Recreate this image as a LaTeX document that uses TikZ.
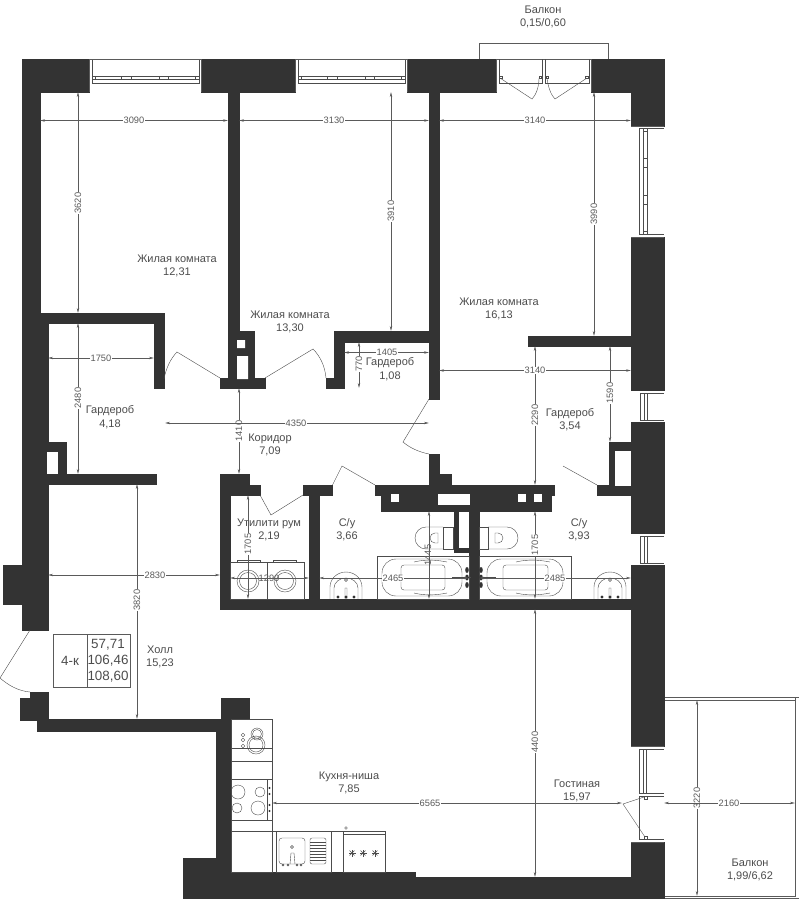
\documentclass[tikz,border=0pt]{standalone}
\usepackage{fontspec}
\setmainfont{Liberation Sans}
\usetikzlibrary{arrows.meta}
\definecolor{wallgray}{HTML}{333333}
\definecolor{dimgray}{HTML}{5A5A5A}
\tikzset{
  wall/.style = {fill=wallgray, draw=wallgray, line width=0.2pt},
  hole/.style = {fill=white, draw=none},
  thinline/.style = {draw=dimgray, line width=0.5pt},
  fixture/.style = {draw=black!70, line width=0.4pt},
  dimline/.style = {draw=dimgray, line width=0.55pt, {Stealth[length=5pt,width=2.4pt]}-{Stealth[length=5pt,width=2.4pt]}},
  dimtext/.style = {font=\fontsize{9.3}{10}\selectfont, text=dimgray, fill=white, inner sep=0.6pt},
  dimbare/.style = {font=\fontsize{9.3}{10}\selectfont, text=dimgray, inner sep=0.6pt},
  roomname/.style = {font=\fontsize{11}{13.2}\selectfont, text=black!70, align=center, inner sep=0pt, yshift=-1.2pt},
  infotext/.style = {font=\fontsize{13.4}{15}\selectfont, text=black!70, inner sep=0pt},
}
\begin{document}
\begin{tikzpicture}[x=1pt, y=-1pt]
\useasboundingbox (0,0) rectangle (799,900);
% balconies
\draw[thinline, line width=1pt] (479,59) -- (479,43) -- (608,43) -- (608,59);
\draw[thinline] (664,697) -- (799,697) -- (799,898) -- (664,898);
\draw[thinline] (664,700) -- (795,700) -- (795,896) -- (664,896);
\draw[thinline] (795,697) -- (795,700);
% outer walls
\fill[wall] (22,59) rectangle (89,92) (201,59) rectangle (295,92) (407,59) rectangle (496,92) (591,59) rectangle (664,92);
\fill[wall] (22,59) rectangle (40,313);
\fill[wall] (22,313) rectangle (48,630);
\fill[wall] (3,565) rectangle (48,604);
\fill[wall] (30,692) rectangle (48,720);
\fill[wall] (20,698) rectangle (48,720);
\fill[wall] (37,719) rectangle (231,731);
\fill[wall] (221,698) rectangle (249,719);
\fill[wall] (216,719) rectangle (231,872);
\fill[wall] (183,858) rectangle (231,872);
\fill[wall] (183,872) rectangle (415,898);
\fill[wall] (415,877) rectangle (664,898);
\fill[wall] (631,59) rectangle (664,126) (631,237) rectangle (664,390) (631,422) rectangle (664,533) (631,565) rectangle (664,746) (631,842) rectangle (664,898);
% inner walls, upper rooms
\fill[wall] (228,92) rectangle (239,331);
\fill[wall] (429,92) rectangle (439,399);
\fill[wall] (22,313) rectangle (164,323);
\fill[wall] (154,313) rectangle (164,388);
\fill[wall] (228,331) rectangle (254,388);
\fill[wall] (220,378) rectangle (265,388);
\fill[hole] (237,340) rectangle (245,348) (237,356) rectangle (248,379);
\fill[wall] (334,331) rectangle (439,342);
\fill[wall] (334,331) rectangle (344,388);
\fill[wall] (326,378) rectangle (344,388);
\fill[wall] (528,336) rectangle (631,346);
% left closet
\fill[wall] (22,442) rectangle (66,474);
\fill[hole] (47,452) rectangle (58,475);
\fill[wall] (22,474) rectangle (156,484);
% utility and bathrooms
\fill[wall] (220,474) rectangle (249,495);
\fill[wall] (220,485) rectangle (260,495);
\fill[wall] (220,474) rectangle (230,609);
\fill[wall] (303,485) rectangle (332,495);
\fill[wall] (309,485) rectangle (319,600);
\fill[wall] (220,599) rectangle (631,609);
\fill[wall] (429,454) rectangle (439,485);
\fill[wall] (429,474) rectangle (451,485);
\fill[wall] (375,485) rectangle (554,495);
\fill[wall] (381,495) rectangle (551,511);
\foreach \hx/\hw in {391/8, 518/8, 534/8} {
  \fill[hole] (\hx,494) rectangle ++(\hw,8);
}
\fill[hole] (438,494) rectangle (470,505);
\fill[wall] (469,511) rectangle (479,600);
\fill[wall] (454,511) rectangle (458,552);
\fill[wall] (454,548) rectangle (469,552);
\fill[wall] (609,442) rectangle (631,495);
\fill[wall] (597,485) rectangle (631,495);
\fill[hole] (615,451) rectangle (631,486);
% windows, top wall
\foreach \wx in {89, 295} {
  \draw[fixture] (\wx+3,59) -- (\wx+3,83) -- (\wx+110,83) -- (\wx+110,59);
  \draw[fixture] (\wx+3,76) -- (\wx+110,76) (\wx+3,79) -- (\wx+110,79);
  \foreach \tx in {6, 32, 42, 70, 79, 106} {
    \draw[fixture] (\wx+\tx,76) -- (\wx+\tx,79);
  }
  \draw[thinline] (\wx,59) -- (\wx,92) (\wx+112,59) -- (\wx+112,92) (\wx,59) -- (\wx+112,59);
}
% windows, right wall
\draw[thinline] (631,126) -- (664,126) (631,237) -- (664,237);
\draw[fixture] (664,128) -- (639.5,128) -- (639.5,234) -- (664,234);
\draw[fixture] (643,128) -- (643,234) (647,128) -- (647,234);
\foreach \ty in {131, 158, 167, 195, 204, 231} {
  \draw[fixture] (643,\ty) -- (647,\ty);
}
\foreach \wy/\wh in {393/27, 536/27} {
  \draw[fixture] (664,\wy) -- (640,\wy) -- (640,\wy+\wh) -- (664,\wy+\wh);
  \draw[fixture] (644,\wy) -- (644,\wy+\wh) (647,\wy) -- (647,\wy+\wh);
}
% balcony door, top
\draw[thinline] (496,59) -- (496,92) (591,59) -- (591,92) (496,59) -- (591,59);
\draw[fixture] (499,59) -- (499,83) -- (542,83) -- (542,59);
\draw[fixture] (545,59) -- (545,83) -- (589,83) -- (589,59);
\draw[fixture] (499.5,76) rectangle ++(2.5,2.5) (539,76) rectangle ++(2.5,2.5) (546,76) rectangle ++(2.5,2.5) (585.5,76) rectangle ++(2.5,2.5);
\draw[fixture] (500,78) -- (532,99) .. controls (536,95) and (539,87) .. (539,78);
\draw[fixture] (587,78) -- (555,99) .. controls (551,95) and (548,87) .. (547,78);
% balcony door, living room
\draw[thinline] (631,746) -- (664,746) (631,842) -- (664,842);
\draw[fixture] (664,749) -- (639,749) -- (639,793) -- (664,793);
\draw[fixture] (643,749) -- (643,793) (646,749) -- (646,793);
\draw[fixture] (664,796) -- (639,796) -- (639,839) -- (664,839);
\draw[fixture] (644,796) rectangle ++(3,3) (644,836) rectangle ++(3,3);
\draw[fixture] (644,797) -- (623,804) -- (645,837);
% doors
\draw[fixture] (220,378) -- (177,352) .. controls (171,358) and (166,368) .. (164,379);
\draw[fixture] (265,378) -- (313,349) .. controls (320,356) and (325,366) .. (326,378);
\draw[fixture] (429,399) -- (403,442) .. controls (410,448) and (419,452) .. (429,454);
\draw[fixture] (375,485) -- (342,466) -- (332.5,485);
\draw[fixture] (303,495) -- (271,515) -- (260,495);
\draw[fixture] (597,485) -- (563,466);
\draw[fixture] (30,630) -- (0,678) .. controls (8,685) and (18,691) .. (30,692);
% utility room
\draw[fixture] (230,562) rectangle (304,599) (267,562) -- (267,599);
\draw[fixture] (237,562) rectangle (260,560.5) (273,562) rectangle (296,560.5);
\foreach \cx in {248, 285} {
  \draw[fixture] (\cx,581) circle (11) (\cx,581) circle (8.5);
}
% toilets
\draw[fixture] (443,527) rectangle (453,549) (479,527) rectangle (488,549);
\draw[fixture] (488,527) -- (507,527) arc (270:450:11) -- (488,549);
\draw[fixture] (443,527) -- (426,527) arc (270:90:11) -- (443,549);
\draw[fixture] (495,533) -- (498,533) arc (270:450:5) -- (495,543) -- cycle;
\draw[fixture] (438,533) -- (435,533) arc (270:90:5) -- (438,543) -- cycle;
% baths
\foreach \bx/\be/\ix/\ie in {377/469/401/445, 479/571/503/548} {
  \draw[fixture] (\bx,556) rectangle (\be,599);
  \draw[fixture, rounded corners=3pt] (\ix,565) rectangle (\ie,590);
  \draw[fixture] (\ix+13,562) .. controls (\ix+25,559) and (\ie-8,560) .. (\ie+2,562);
  \draw[fixture] (\ix+13,593) .. controls (\ix+25,596) and (\ie-8,595) .. (\ie+2,593);
}
\draw[fixture, rounded corners=14pt] (382,559) rectangle (462,596);
\draw[fixture, rounded corners=14pt] (487,559) rectangle (563,596);
\draw[fixture] (452,577.5) -- (471,577.5) (479,577.5) -- (496,577.5);
\foreach \fx in {467, 481} {
  \foreach \fy in {570, 577.5, 585} {
    \fill[wallgray] (\fx,\fy) ellipse (1.8 and 3);
  }
}
% washbasins
\foreach \sx in {346, 610} {
  \draw[fixture] (\sx-16,599) -- (\sx-16,587) arc (180:360:16 and 15) -- (\sx+16,599);
  \draw[fixture] (\sx-12,599) -- (\sx-12,588) arc (180:360:12 and 10) -- (\sx+12,599);
  \draw[fixture] (\sx,580) circle (1.5) (\sx-1,588) rectangle (\sx+1,599);
  \foreach \kx in {-8, 0, 8} {
    \fill[wallgray] (\sx+\kx,597) circle (1.6);
  }
}
% kitchen
\draw[fixture] (231,719) rectangle (272,831);
\draw[fixture] (231,748) -- (272,748) (231,761) -- (272,761) (231,779) -- (272,779) (231,820) -- (272,820);
\draw[fixture] (267,779) -- (267,820);
\draw[fixture] (257,734) circle (6) (257,734) circle (4.5) (256,745) circle (9) (256,745) circle (7);
\foreach \ky in {735, 740, 746} {
  \draw[fixture] (243,\ky) circle (1.8);
}
\draw[fixture] (238,792) circle (7) (260,792) circle (5) (237,808) circle (5) (258,808) circle (7);
\foreach \ky in {788, 794, 805, 811} {
  \fill[wallgray] (269.5,\ky) circle (1.2);
}
\draw[fixture] (272,831) rectangle (231,872) (276,831) rectangle (331,872) (343,831) rectangle (385,872);
\draw[fixture] (331,831) -- (343,831) (272,831) -- (276,831);
\draw[fixture] (343,834) -- (385,834);
\draw[fixture] (346,828) circle (1.4);
\draw[fixture, rounded corners=3pt] (279,838) rectangle (305,864);
\draw[fixture, rounded corners=2pt] (310,838) rectangle (326,864);
\foreach \ly in {842, 845, ..., 860} {
  \draw[fixture] (310,\ly) -- (326,\ly);
}
\draw[fixture] (292,847) circle (1.5);
\draw[fixture] (290,864) -- (291,853) -- (294,853) -- (295,864);
\foreach \kx in {283, 288, 297, 301} {
  \draw[fixture] (\kx,865) circle (1);
}
\foreach \sx in {352, 363, 375} {
  \foreach \sa in {0, 45, 90, 135} {
    \draw[fixture] (\sx,853) ++(\sa:3.5) -- ++(\sa+180:7);
  }
}
% dimensions
\draw[dimline] (40,120.5) -- (228,120.5);
\node[dimtext] (d3090) at (134,120.5) {3090};
\draw[dimline] (239,120.5) -- (429,120.5);
\node[dimtext] (d3130) at (334,120.5) {3130};
\draw[dimline] (439,120.5) -- (631,120.5);
\node[dimtext] (d3140) at (535,120.5) {3140};
\draw[dimline] (78,92) -- (78,313);
\node[dimtext, rotate=90] (d3620) at (78,203) {3620};
\draw[dimline] (391,92) -- (391,331);
\node[dimtext, rotate=90] (d3910) at (391,211) {3910};
\draw[dimline] (594,92) -- (594,336);
\node[dimtext, rotate=90] (d3990) at (594,214) {3990};
\draw[dimline] (48,358) -- (154,358);
\node[dimtext] (d1750) at (101,358) {1750};
\draw[dimline] (78,323) -- (78,474);
\node[dimtext, rotate=90] (d2480) at (78,398) {2480};
\draw[dimline] (239,388) -- (239,474);
\node[dimtext, rotate=90] (d1410) at (239,431) {1410};
\draw[dimline] (165,423) -- (429,423);
\node[dimtext] (d4350) at (296,423) {4350};
\draw[dimline] (344,352.5) -- (429,352.5);
\node[dimtext] (d1405) at (387,352.5) {1405};
\draw[dimline] (359,342) -- (359,388);
\node[dimtext, rotate=90] (d770) at (359,364) {770};
\draw[dimline] (439,370.5) -- (631,370.5);
\draw[dimline] (535,346) -- (535,485);
\node[dimbare, fill=white] (d3140b) at (535,370.5) {3140};
\node[dimtext, rotate=90] (d2290) at (535,415) {2290};
\draw[dimline] (610,346) -- (610,442);
\node[dimtext, rotate=90] (d1590) at (610,393) {1590};
\draw[dimline] (137,484) -- (137,719);
\node[dimtext, rotate=90] (d3820) at (137,600) {3820};
\draw[dimline] (48,575) -- (220,575);
\node[dimtext] (d2830) at (155,575) {2830};
\draw[dimline] (248,495) -- (248,599);
\node[dimtext, rotate=90] (d1705a) at (248,544) {1705};
\draw[dimline] (230,578) -- (309,578);
\node[dimbare] (d1290) at (269,578) {1290};
\draw[dimline] (319,578) -- (469,578);
\node[dimtext] (d2465) at (393,578) {2465};
\draw[dimline] (429,511) -- (429,599);
\node[dimbare, rotate=90] (d1445) at (428,555) {1445};
\draw[dimline] (535,511) -- (535,599);
\node[dimtext, rotate=90] (d1705b) at (535,545) {1705};
\draw[dimline] (479,578) -- (631,578);
\node[dimtext] (d2485) at (555,578) {2485};
\draw[dimline] (535,609) -- (535,877);
\node[dimtext, rotate=90] (d4400) at (535,742) {4400};
\draw[dimline] (272,803) -- (622,803);
\node[dimtext] (d6565) at (430,803) {6565};
\draw[dimline] (697,700) -- (697,896);
\node[dimtext, rotate=90] (d3220) at (697,798) {3220};
\draw[dimline] (664,803) -- (795,803);
\node[dimtext] (d2160) at (729,803) {2160};
% info box
\draw[thinline] (53,634) rectangle (130,687) (87,634) -- (87,687);
\node[infotext] (kind) at (70,661) {4-к};
\node[infotext] (areaa) at (108,645) {57,71};
\node[infotext] (areab) at (108,661) {106,46};
\node[infotext] (areac) at (108,677) {108,60};
% rooms
\node[roomname] (balconytop) at (543,15.5) {Балкон\\0,15/0,60};
\node[roomname] (rooma) at (177,264.5) {Жилая комната\\12,31};
\node[roomname] (roomb) at (290,320.5) {Жилая комната\\13,30};
\node[roomname] (roomc) at (499,307.5) {Жилая комната\\16,13};
\node[roomname] (closeta) at (110,416) {Гардероб\\4,18};
\node[roomname] (corridor) at (270,443.5) {Коридор\\7,09};
\node[roomname] (closetb) at (390,368) {Гардероб\\1,08};
\node[roomname] (closetc) at (570,418.5) {Гардероб\\3,54};
\node[roomname] (utility) at (269,528.5) {Утилити рум\\2,19};
\node[roomname] (batha) at (347,528.5) {С/у\\3,66};
\node[roomname] (bathb) at (579,528.5) {С/у\\3,93};
\node[roomname] (hall) at (160,656) {Холл\\15,23};
\node[roomname] (kitchen) at (349,781.5) {Кухня-ниша\\7,85};
\node[roomname] (living) at (577,789.5) {Гостиная\\15,97};
\node[roomname] (balconyright) at (750,868.5) {Балкон\\1,99/6,62};
\end{tikzpicture}
\end{document}
